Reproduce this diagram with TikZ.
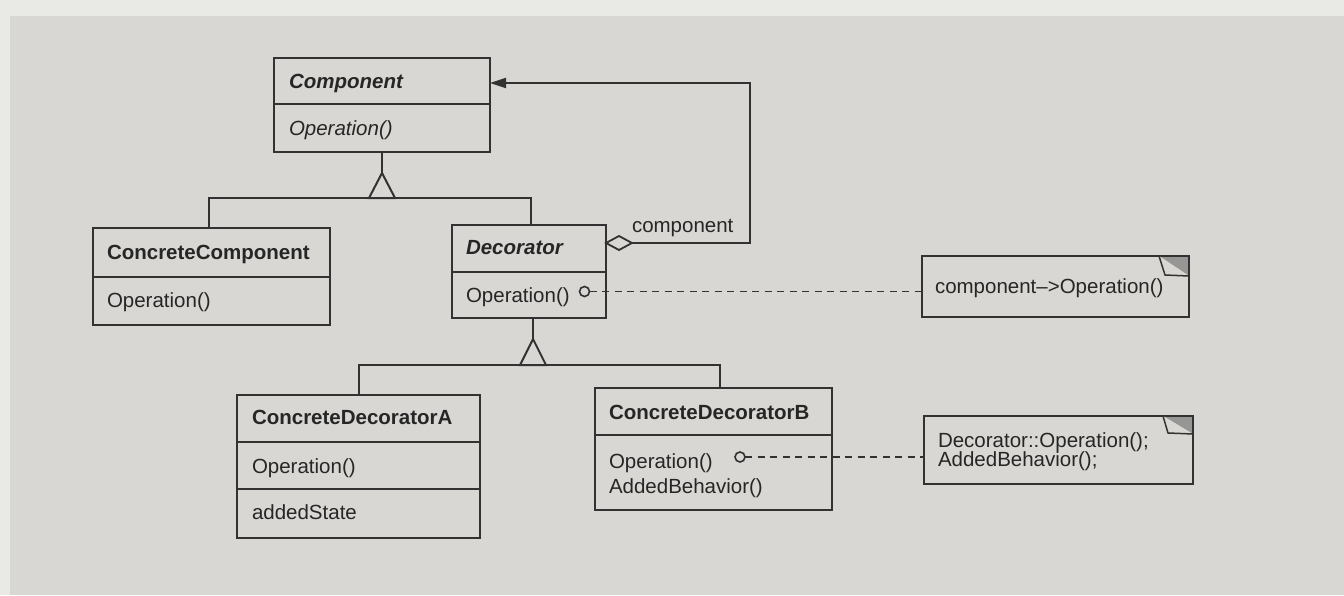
\documentclass[tikz,border=0pt]{standalone}
\usepackage{fontspec}
\setmainfont{Liberation Sans}
\usetikzlibrary{arrows.meta,shapes.geometric,backgrounds}

\definecolor{paper}{RGB}{216,215,211}
\definecolor{paperlight}{RGB}{233,233,230}
\definecolor{ink}{RGB}{50,50,50}
\definecolor{textink}{RGB}{38,38,38}
\definecolor{foldgray}{RGB}{150,150,148}

\newcommand\umlfont{\fontsize{20.5}{24}\selectfont}

\begin{document}
\begin{tikzpicture}[x=1pt,y=-1pt,
  every node/.style={inner sep=0pt,outer sep=0pt},
  line/.style={draw=ink,line width=2pt,line join=miter},
  classbox/.style={draw=ink,line width=2pt,rectangle,anchor=north west},
  notebox/.style={draw=ink,line width=2pt,rectangle,anchor=north west},
  lbl/.style={anchor=base west,text=textink,font=\umlfont},
  dotend/.style={circle,draw=ink,line width=1.6pt,minimum size=10pt,fill=paper},
  dashline/.style={draw=ink,line width=1.8pt,dash pattern=on 7pt off 5.5pt},
  aggdiamond/.style={diamond,draw=ink,line width=1.8pt,fill=paper,minimum width=26pt,minimum height=14pt},
  navarrow/.style={-{Triangle[length=16pt,width=10pt]}},
  fold/.style={draw=ink,line width=1.5pt,fill=paper,line join=round}
]
\useasboundingbox (0,0) rectangle (1344,595);

% paper
\begin{pgfonlayer}{background}
  \fill[paper] (0,0) rectangle (1344,595);
  \fill[paperlight] (0,0) rectangle (1344,16);
  \fill[paperlight] (0,0) rectangle (10,595);
\end{pgfonlayer}

% ---- classes ----
\node[classbox,minimum width=216pt,minimum height=94pt] (component) at (274,58) {};
\draw[line] (274,104) -- (490,104);
\node[lbl] (componentName) at (289,88) {\bfseries\itshape Component};
\node[lbl] (componentOp) at (289,135) {\itshape Operation()};

\node[classbox,minimum width=237pt,minimum height=97pt] (concreteComponent) at (93,228) {};
\draw[line] (93,277) -- (330,277);
\node[lbl] (concreteComponentName) at (107,259) {\bfseries ConcreteComponent};
\node[lbl] (concreteComponentOp) at (107,307) {Operation()};

\node[classbox,minimum width=154pt,minimum height=93pt] (decorator) at (452,225) {};
\draw[line] (452,272) -- (606,272);
\node[lbl] (decoratorName) at (466,254) {\bfseries\itshape Decorator};
\node[lbl] (decoratorOp) at (466,302) {Operation()};
\node[dotend] (decoratorDot) at (584.5,291.5) {};

\node[classbox,minimum width=243pt,minimum height=143pt] (decoratorA) at (237,395) {};
\draw[line] (237,442) -- (480,442);
\draw[line] (237,489) -- (480,489);
\node[lbl] (decoratorAName) at (252,424) {\bfseries ConcreteDecoratorA};
\node[lbl] (decoratorAOp) at (252,473) {Operation()};
\node[lbl] (decoratorAState) at (252,519) {addedState};

\node[classbox,minimum width=237pt,minimum height=122pt] (decoratorB) at (595,388) {};
\draw[line] (595,435) -- (832,435);
\node[lbl] (decoratorBName) at (609,419) {\bfseries ConcreteDecoratorB};
\node[lbl] (decoratorBOp) at (609,468) {Operation()};
\node[lbl] (decoratorBAdded) at (609,493) {AddedBehavior()};
\node[dotend] (decoratorBDot) at (740,457) {};

% ---- notes ----
\node[notebox,minimum width=267pt,minimum height=61pt] (note1) at (922,256) {};
\node[lbl] (note1Text) at (935,293) {component–>Operation()};

\node[notebox,minimum width=269pt,minimum height=68pt] (note2) at (924,416) {};
\node[lbl] (note2TextA) at (938,447) {Decorator::Operation();};
\node[lbl] (note2TextB) at (938,466) {AddedBehavior();};

% dog-eared corners
\begin{pgfonlayer}{background}
  \fill[foldgray] ([xshift=-30pt]note1.north east) -- (note1.north east) -- ([yshift=-20pt]note1.north east) -- cycle;
  \fill[foldgray] ([xshift=-30pt]note2.north east) -- (note2.north east) -- ([yshift=-18pt]note2.north east) -- cycle;
\end{pgfonlayer}
\draw[fold] ([xshift=-30pt]note1.north east) -- ([xshift=-24pt,yshift=-19pt]note1.north east) -- ([yshift=-20pt]note1.north east);
\draw[fold] ([xshift=-30pt]note2.north east) -- ([xshift=-25pt,yshift=-17pt]note2.north east) -- ([yshift=-18pt]note2.north east);

% ---- generalisation: Component <- ConcreteComponent, Decorator ----
\coordinate (gen1Apex) at (382,173);
\coordinate (gen1Base) at (382,198);
\draw[line] (component.south) -- (gen1Apex);
\draw[line] (gen1Apex) -- ++(-13,25) -- ++(26,0) -- cycle;
\draw[line] ([xshift=-3pt]concreteComponent.north) |- (gen1Base) -| ([xshift=2pt]decorator.north);

% ---- generalisation: Decorator <- ConcreteDecoratorA, ConcreteDecoratorB ----
\coordinate (gen2Apex) at (533,339);
\coordinate (gen2Base) at (533,365);
\draw[line] (gen2Apex |- decorator.south) -- (gen2Apex);
\draw[line] (gen2Apex) -- ++(-13,26) -- ++(26,0) -- cycle;
\draw[line] (decoratorA.north) |- (gen2Base) -| ([xshift=6pt]decoratorB.north);

% ---- aggregation: Decorator o-> Component ----
\node[aggdiamond] (agg) at (619,243) {};
\coordinate (navCorner) at (750,83);
\draw[line,navarrow] (agg.east) -| (navCorner) -- (navCorner -| component.east);
\node[lbl] (aggLabel) at (632,232) {component};

% ---- note connectors ----
\draw[dashline] (decoratorDot.east) -- (decoratorDot.east -| note1.west);
\draw[dashline] (decoratorBDot.east) -- (decoratorBDot.east -| note2.west);
\end{tikzpicture}
\end{document}
